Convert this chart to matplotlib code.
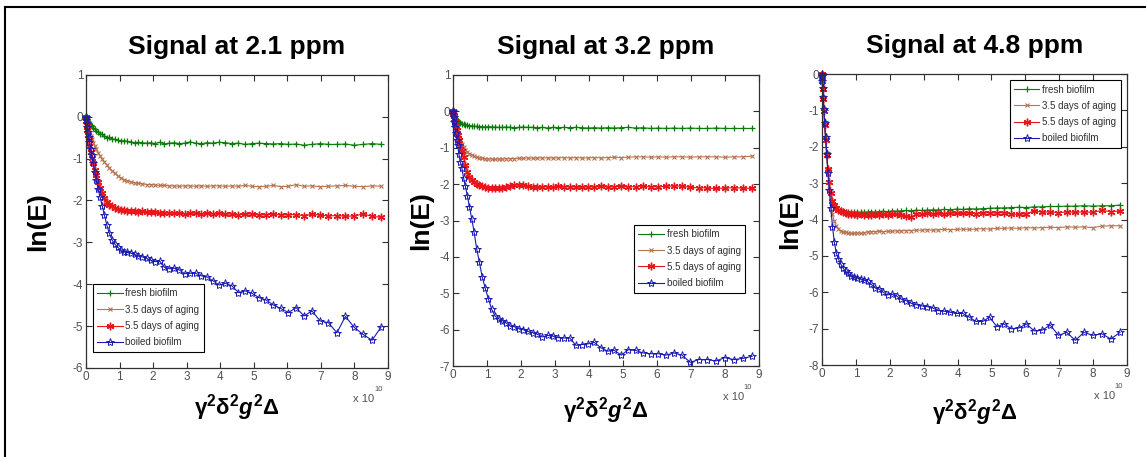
import matplotlib
matplotlib.use('Agg')
import matplotlib.pyplot as plt
from matplotlib.lines import Line2D

# x axis values, in units of 1e10
x = [0, 0.002, 0.009, 0.019, 0.034, 0.054, 0.077, 0.105, 0.138, 0.174,
     0.215, 0.26, 0.309, 0.363, 0.421, 0.483, 0.55, 0.621, 0.696, 0.776,
     0.859, 0.947, 1.04, 1.137, 1.238, 1.343, 1.452, 1.566, 1.684, 1.807,
     1.934, 2.065, 2.2, 2.34, 2.484, 2.632, 2.784, 2.941, 3.102, 3.268,
     3.438, 3.611, 3.79, 3.972, 4.159, 4.351, 4.546, 4.746, 4.95, 5.158,
     5.371, 5.588, 5.809, 6.035, 6.265, 6.499, 6.738, 6.98, 7.227, 7.479,
     7.734, 7.994, 8.259, 8.527, 8.8]

labels = ['fresh biofilm', '3.5 days of aging', '5.5 days of aging', 'boiled biofilm']
titles = ['Signal at 2.1 ppm', 'Signal at 3.2 ppm', 'Signal at 4.8 ppm']

# ---- Signal at 2.1 ppm ----
p1_fresh = [0, -0.01, -0.03, -0.05, -0.08, -0.11, -0.14, -0.17, -0.2, -0.23,
            -0.26, -0.29, -0.33, -0.36, -0.4, -0.42, -0.45, -0.5, -0.49, -0.52,
            -0.54, -0.56, -0.58, -0.57, -0.59, -0.6, -0.62, -0.61, -0.62, -0.63,
            -0.62, -0.64, -0.61, -0.65, -0.63, -0.62, -0.64, -0.63, -0.6, -0.63,
            -0.64, -0.62, -0.63, -0.61, -0.62, -0.64, -0.63, -0.66, -0.64, -0.63,
            -0.64, -0.65, -0.64, -0.66, -0.65, -0.68, -0.66, -0.64, -0.66, -0.66,
            -0.65, -0.68, -0.66, -0.64, -0.66]
p1_aged35 = [0, -0.02, -0.06, -0.11, -0.17, -0.24, -0.3, -0.38, -0.46, -0.54,
             -0.62, -0.7, -0.78, -0.86, -0.94, -1.01, -1.08, -1.15, -1.22, -1.29,
             -1.35, -1.41, -1.46, -1.5, -1.53, -1.56, -1.58, -1.59, -1.6, -1.62,
             -1.62, -1.63, -1.64, -1.64, -1.65, -1.65, -1.66, -1.65, -1.65, -1.66,
             -1.65, -1.66, -1.65, -1.65, -1.66, -1.65, -1.66, -1.64, -1.66, -1.67,
             -1.66, -1.64, -1.67, -1.66, -1.62, -1.66, -1.65, -1.67, -1.66, -1.65,
             -1.64, -1.66, -1.67, -1.65, -1.66]
p1_aged55 = [0, -0.03, -0.1, -0.2, -0.32, -0.44, -0.56, -0.7, -0.84, -0.98,
             -1.1, -1.26, -1.4, -1.55, -1.7, -1.82, -1.95, -2.04, -2.1, -2.14,
             -2.18, -2.2, -2.22, -2.23, -2.24, -2.25, -2.26, -2.27, -2.26, -2.28,
             -2.27, -2.28, -2.29, -2.3, -2.29, -2.31, -2.3, -2.32, -2.31, -2.3,
             -2.32, -2.31, -2.32, -2.31, -2.33, -2.32, -2.34, -2.33, -2.32, -2.35,
             -2.34, -2.33, -2.35, -2.34, -2.34, -2.36, -2.33, -2.35, -2.37, -2.36,
             -2.38, -2.37, -2.32, -2.38, -2.4]
p1_boiled = [0, -0.02, -0.08, -0.16, -0.25, -0.36, -0.48, -0.6, -0.76, -0.92,
             -1.1, -1.32, -1.52, -1.72, -1.92, -2.12, -2.35, -2.58, -2.78, -2.94,
             -3.04, -3.12, -3.18, -3.22, -3.24, -3.26, -3.29, -3.32, -3.35, -3.38,
             -3.43, -3.46, -3.45, -3.6, -3.63, -3.62, -3.66, -3.75, -3.74, -3.74,
             -3.8, -3.83, -3.92, -4.02, -3.98, -4.04, -4.2, -4.16, -4.22, -4.32,
             -4.38, -4.5, -4.58, -4.68, -4.56, -4.76, -4.64, -4.88, -4.92, -5.16,
             -4.77, -5.03, -5.2, -5.34, -5.02]

# ---- Signal at 3.2 ppm ----
p2_fresh = [0, -0.02, -0.05, -0.09, -0.13, -0.17, -0.2, -0.24, -0.27, -0.3,
            -0.32, -0.34, -0.36, -0.37, -0.38, -0.39, -0.4, -0.41, -0.41, -0.42,
            -0.42, -0.43, -0.42, -0.43, -0.43, -0.44, -0.44, -0.43, -0.44, -0.45,
            -0.44, -0.43, -0.44, -0.44, -0.45, -0.44, -0.46, -0.44, -0.45, -0.44,
            -0.45, -0.44, -0.45, -0.46, -0.45, -0.46, -0.45, -0.46, -0.45, -0.44,
            -0.46, -0.45, -0.47, -0.46, -0.47, -0.46, -0.47, -0.46, -0.47, -0.47,
            -0.46, -0.47, -0.47, -0.47, -0.47]
p2_aged35 = [0, -0.03, -0.09, -0.16, -0.24, -0.33, -0.42, -0.52, -0.62, -0.72,
             -0.82, -0.9, -0.98, -1.05, -1.11, -1.16, -1.2, -1.24, -1.26, -1.28,
             -1.29, -1.3, -1.31, -1.31, -1.32, -1.31, -1.31, -1.3, -1.3, -1.3,
             -1.29, -1.29, -1.28, -1.29, -1.28, -1.28, -1.28, -1.28, -1.28, -1.27,
             -1.28, -1.27, -1.28, -1.28, -1.27, -1.28, -1.27, -1.26, -1.27, -1.26,
             -1.25, -1.25, -1.26, -1.25, -1.26, -1.25, -1.25, -1.26, -1.25, -1.25,
             -1.25, -1.26, -1.25, -1.25, -1.23]
p2_aged55 = [0, -0.03, -0.08, -0.13, -0.2, -0.3, -0.4, -0.5, -0.65, -0.8,
             -0.95, -1.08, -1.25, -1.48, -1.66, -1.8, -1.89, -1.95, -2.0, -2.03,
             -2.06, -2.08, -2.1, -2.11, -2.12, -2.11, -2.1, -2.08, -2.05, -2.03,
             -2.02, -2.03, -2.04, -2.08, -2.09, -2.08, -2.07, -2.09, -2.06, -2.08,
             -2.07, -2.08, -2.09, -2.07, -2.08, -2.06, -2.08, -2.07, -2.06, -2.08,
             -2.07, -2.06, -2.08, -2.07, -2.06, -2.05, -2.06, -2.09, -2.1, -2.11,
             -2.12, -2.11, -2.1, -2.11, -2.12]
p2_boiled = [0, -0.02, -0.08, -0.16, -0.28, -0.42, -0.6, -0.78, -0.92, -1.18,
             -1.38, -1.56, -1.82, -2.06, -2.32, -2.62, -2.95, -3.32, -3.78, -4.15,
             -4.55, -4.86, -5.15, -5.44, -5.63, -5.7, -5.75, -5.82, -5.9, -5.92,
             -5.97, -6.0, -6.05, -6.08, -6.13, -6.2, -6.16, -6.18, -6.22, -6.23,
             -6.23, -6.43, -6.41, -6.39, -6.35, -6.5, -6.59, -6.57, -6.7, -6.55,
             -6.57, -6.64, -6.66, -6.66, -6.7, -6.64, -6.7, -6.9, -6.82, -6.82,
             -6.86, -6.77, -6.82, -6.79, -6.73]

# ---- Signal at 4.8 ppm ----
p3_fresh = [0, -0.04, -0.15, -0.35, -0.6, -0.92, -1.3, -1.7, -2.15, -2.6,
            -3.0, -3.3, -3.52, -3.64, -3.7, -3.73, -3.75, -3.76, -3.78, -3.78,
            -3.79, -3.8, -3.79, -3.8, -3.8, -3.79, -3.78, -3.8, -3.78, -3.77,
            -3.78, -3.76, -3.77, -3.76, -3.75, -3.76, -3.74, -3.75, -3.74, -3.73,
            -3.74, -3.72, -3.73, -3.71, -3.72, -3.7, -3.71, -3.7, -3.69, -3.68,
            -3.68, -3.67, -3.66, -3.67, -3.65, -3.65, -3.64, -3.64, -3.63, -3.63,
            -3.62, -3.63, -3.62, -3.62, -3.6]
p3_aged35 = [0, -0.05, -0.16, -0.36, -0.62, -0.95, -1.35, -1.78, -2.25, -2.72,
             -3.15, -3.55, -3.85, -4.05, -4.18, -4.25, -4.3, -4.33, -4.35, -4.37,
             -4.38, -4.38, -4.37, -4.38, -4.36, -4.34, -4.33, -4.33, -4.32, -4.33,
             -4.32, -4.32, -4.31, -4.31, -4.3, -4.3, -4.29, -4.29, -4.28, -4.29,
             -4.28, -4.27, -4.28, -4.27, -4.26, -4.27, -4.26, -4.25, -4.26, -4.24,
             -4.24, -4.23, -4.24, -4.22, -4.23, -4.22, -4.21, -4.22, -4.2, -4.21,
             -4.2, -4.22, -4.18, -4.17, -4.17]
p3_aged55 = [0, -0.06, -0.2, -0.42, -0.68, -1.02, -1.4, -1.8, -2.22, -2.62,
             -2.98, -3.28, -3.48, -3.6, -3.68, -3.73, -3.77, -3.8, -3.82, -3.84,
             -3.85, -3.86, -3.87, -3.86, -3.87, -3.88, -3.87, -3.86, -3.87, -3.86,
             -3.87, -3.85, -3.86, -3.88, -3.9, -3.92, -3.86, -3.84, -3.83, -3.84,
             -3.83, -3.84, -3.82, -3.83, -3.83, -3.82, -3.84, -3.82, -3.81, -3.82,
             -3.81, -3.85, -3.86, -3.84, -3.76, -3.8, -3.79, -3.81, -3.79, -3.8,
             -3.79, -3.8, -3.75, -3.78, -3.77]
p3_boiled = [0, -0.05, -0.18, -0.38, -0.62, -0.95, -1.35, -1.72, -2.2, -2.72,
             -3.18, -3.68, -4.2, -4.62, -4.92, -5.08, -5.22, -5.33, -5.42, -5.48,
             -5.54, -5.58, -5.6, -5.63, -5.66, -5.7, -5.78, -5.87, -5.91, -6.0,
             -6.07, -6.05, -6.1, -6.19, -6.23, -6.3, -6.34, -6.37, -6.39, -6.43,
             -6.5, -6.52, -6.55, -6.58, -6.58, -6.68, -6.8, -6.8, -6.68, -6.94,
             -6.87, -7.0, -6.98, -6.87, -7.06, -7.04, -6.9, -7.18, -7.1, -7.32,
             -7.1, -7.18, -7.14, -7.28, -7.1]

# ---- styling ----
small = ['Liberation Sans', 'DejaVu Sans']
bold = ['Liberation Sans', 'DejaVu Sans']
plt.rcParams['axes.unicode_minus'] = False
plt.rcParams['mathtext.fontset'] = 'custom'
plt.rcParams['mathtext.rm'] = 'Liberation Sans:bold'
plt.rcParams['mathtext.it'] = 'Liberation Sans:bold:italic'
plt.rcParams['mathtext.bf'] = 'Liberation Sans:bold'

styles = [
    dict(color='#0a7a0a', marker='+', ms=4.5, mew=0.9),
    dict(color='#b8734f', marker='x', ms=3.5, mew=0.8),
    dict(color='#e8161b', marker=(6, 2, 0), ms=5.5, mew=1.0),
    dict(color='#1a1ab4', marker='*', ms=6, mew=0.7, mfc='none'),
]

panels = [
    dict(series=[p1_fresh, p1_aged35, p1_aged55, p1_boiled],
         rect=[0.075, 0.195, 0.2635, 0.641], ylim=(-6, 1),
         leg=dict(loc='lower left', bbox_to_anchor=(0.023, 0.055)),
         ylab_x=-0.118, xlab_y=-0.082, exp_x=0.99),
    dict(series=[p2_fresh, p2_aged35, p2_aged55, p2_boiled],
         rect=[0.3953, 0.199, 0.267, 0.637], ylim=(-7, 1),
         leg=dict(loc='upper right', bbox_to_anchor=(0.954, 0.485)),
         ylab_x=-0.066, xlab_y=-0.1, exp_x=0.985),
    dict(series=[p3_fresh, p3_aged35, p3_aged55, p3_boiled],
         rect=[0.7173, 0.201, 0.266, 0.637], ylim=(-8, 0),
         leg=dict(loc='upper right', bbox_to_anchor=(0.98, 0.979)),
         ylab_x=-0.066, xlab_y=-0.11, exp_x=0.995),
]

fig = plt.figure(figsize=(11.46, 4.57), dpi=100)

for title, p in zip(titles, panels):
    ax = fig.add_axes(p['rect'])
    for y, lab, st in zip(p['series'], labels, styles):
        ax.plot(x, y, lw=0.8, label=lab, clip_on=False, **st)

    lo, hi = p['ylim']
    ax.set_xlim(0, 9)
    ax.set_ylim(lo, hi)
    ax.set_xticks(range(10))
    ax.set_yticks(range(lo, hi + 1))
    ax.tick_params(direction='in', length=4, width=0.8, top=True, right=True,
                   labelsize=8.5, labelcolor='#505050', color='#303030', pad=2)
    for t in ax.get_xticklabels() + ax.get_yticklabels():
        t.set_family(small)
    for s in ax.spines.values():
        s.set_color('#303030')
        s.set_linewidth(0.9)

    ax.set_title(title, fontsize=19, fontweight='bold', family=bold, pad=15)
    ax.set_ylabel('ln(E)', fontsize=19, fontweight='bold', family=bold)
    ax.yaxis.set_label_coords(p['ylab_x'], 0.5)
    ax.set_xlabel(r'$\mathrm{\gamma^2\delta^2}g^\mathrm{2}\mathrm{\Delta}$', fontsize=16)
    ax.xaxis.set_label_coords(0.5, p['xlab_y'])

    ax.text(p['exp_x'] - 0.035, -0.09, 'x 10', transform=ax.transAxes, ha='right',
            va='top', fontsize=8, color='#505050', family=small)
    ax.text(p['exp_x'] - 0.035, -0.085, '10', transform=ax.transAxes, ha='left',
            va='bottom', fontsize=5.5, color='#505050', family=small)

    leg = ax.legend(prop={'family': small, 'size': 7}, borderaxespad=0,
                    fancybox=False, edgecolor='black', framealpha=1,
                    handlelength=2.6, handletextpad=0.3, labelspacing=0.65,
                    borderpad=0.45, **p['leg'])
    leg.get_frame().set_linewidth(0.8)
    for t in leg.get_texts():
        t.set_color('#303030')

# outer frame of the figure (top and left edges)
fig.add_artist(Line2D([5 / 1146, 1], [1 - 7 / 457, 1 - 7 / 457],
                      transform=fig.transFigure, color='black', lw=1.5))
fig.add_artist(Line2D([5 / 1146, 5 / 1146], [0, 1 - 7 / 457],
                      transform=fig.transFigure, color='black', lw=1.5))

fig.savefig('out.png', dpi=100)
